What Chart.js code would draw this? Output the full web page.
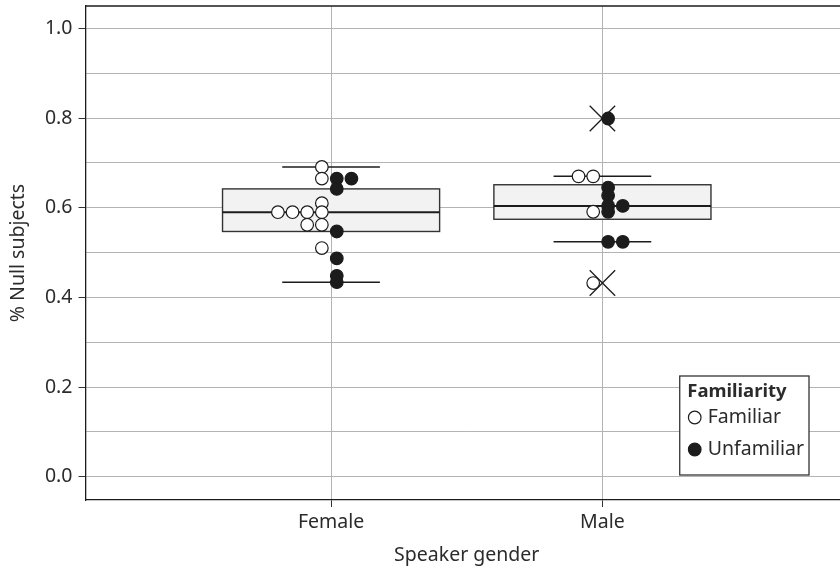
<!DOCTYPE html>
<html>
<head>
<meta charset="utf-8">
<title>Null subjects by speaker gender</title>
<script src="https://cdn.jsdelivr.net/npm/chart.js@4.4.1/dist/chart.umd.min.js"></script>
<style>
  html, body { margin: 0; padding: 0; background: #fff; overflow: hidden; }
  #chart { display: block; width: 848px; height: 571px; }
</style>
</head>
<body>
<canvas id="chart" width="848" height="571"></canvas>
<script>
// categories and values (proportion of null subjects per speaker)
const genders = ["Female", "Male"];
const familiarityLabels = ["Familiar", "Unfamiliar"];

const familiarFemale = [0.691, 0.665, 0.610, 0.590, 0.590, 0.590, 0.590, 0.562, 0.562, 0.510];
const unfamiliarFemale = [0.665, 0.665, 0.642, 0.547, 0.487, 0.448, 0.434];
const familiarMale = [0.670, 0.670, 0.591, 0.432];
const unfamiliarMale = [0.799, 0.645, 0.627, 0.604, 0.604, 0.591, 0.524, 0.524];

const yTickValues = [0, 0.2, 0.4, 0.6, 0.8, 1.0];
const yTickLabels = ["0.0", "0.2", "0.4", "0.6", "0.8", "1.0"];

const familiarValues = [familiarFemale, familiarMale];
const unfamiliarValues = [unfamiliarFemale, unfamiliarMale];

// layout bits
const X_MIN = 0.095, X_MAX = 2.905;
const BOX_HALF = 0.4;
const WHISKER_HALF = 0.18;
const DOT_STEP = 0.054;
const FONT = '"Noto Sans", sans-serif';
const FONT_SIZE = 19.5;
const TEXT = "#2b2b2b";
const INK = "#1c1c1c";

function quantile(sorted, p) {
  const h = (sorted.length - 1) * p;
  const lo = Math.floor(h);
  const hi = Math.min(lo + 1, sorted.length - 1);
  return sorted[lo] + (h - lo) * (sorted[hi] - sorted[lo]);
}

function boxStats(values) {
  const s = values.slice().sort((a, b) => a - b);
  const q1 = quantile(s, 0.25), med = quantile(s, 0.5), q3 = quantile(s, 0.75);
  const iqr = q3 - q1;
  const lowFence = q1 - 1.5 * iqr, highFence = q3 + 1.5 * iqr;
  const inside = s.filter(v => v >= lowFence && v <= highFence);
  return {
    q1, med, q3,
    lo: inside[0],
    hi: inside[inside.length - 1],
    outliers: s.filter(v => v < lowFence || v > highFence)
  };
}

// dots with equal values sit side by side, familiar to the left, unfamiliar to the right
function dotPositions(values, center, base, dir) {
  const seen = {};
  return values.map(v => {
    const k = seen[v] || 0;
    seen[v] = k + 1;
    return { x: center + base + dir * k * DOT_STEP, y: v };
  });
}

const stats = genders.map((g, i) => boxStats(familiarValues[i].concat(unfamiliarValues[i])));

const familiarPoints = [];
const unfamiliarPoints = [];
const outlierPoints = [];
genders.forEach((g, i) => {
  familiarPoints.push(...dotPositions(familiarValues[i], i + 1, -0.034, -1));
  unfamiliarPoints.push(...dotPositions(unfamiliarValues[i], i + 1, 0.021, 1));
  stats[i].outliers.forEach(v => outlierPoints.push({ x: i + 1, y: v }));
});

const boxPlugin = {
  id: "boxes",
  beforeDatasetsDraw(chart) {
    const { ctx, chartArea, scales: { x, y } } = chart;
    ctx.save();
    stats.forEach((s, i) => {
      const c = i + 1;
      const l = x.getPixelForValue(c - BOX_HALF);
      const r = x.getPixelForValue(c + BOX_HALF);
      const top = y.getPixelForValue(s.q3);
      const bot = y.getPixelForValue(s.q1);
      ctx.fillStyle = "#f2f2f2";
      ctx.fillRect(l, top, r - l, bot - top);
      ctx.strokeStyle = "#333";
      ctx.lineWidth = 1.4;
      ctx.strokeRect(l, top, r - l, bot - top);

      ctx.strokeStyle = INK;
      ctx.lineWidth = 2;
      ctx.beginPath();
      ctx.moveTo(l, y.getPixelForValue(s.med));
      ctx.lineTo(r, y.getPixelForValue(s.med));
      ctx.stroke();

      const wl = x.getPixelForValue(c - WHISKER_HALF);
      const wr = x.getPixelForValue(c + WHISKER_HALF);
      ctx.lineWidth = 1.5;
      [s.lo, s.hi].forEach(v => {
        ctx.beginPath();
        ctx.moveTo(wl, y.getPixelForValue(v));
        ctx.lineTo(wr, y.getPixelForValue(v));
        ctx.stroke();
      });
    });
    // top panel border
    ctx.strokeStyle = INK;
    ctx.lineWidth = 1.3;
    ctx.beginPath();
    ctx.moveTo(chartArea.left, chartArea.top);
    ctx.lineTo(chartArea.right, chartArea.top);
    ctx.stroke();
    ctx.restore();
  }
};

const legendPlugin = {
  id: "insideLegend",
  afterDraw(chart) {
    const { ctx, chartArea } = chart;
    const right = chartArea.right - 39;
    const bottom = chartArea.bottom - 25;
    const h = 99;
    ctx.save();
    ctx.font = FONT_SIZE + "px " + FONT;
    const textW = Math.max(...familiarityLabels.map(t => ctx.measureText(t).width));
    const w = 28 + textW + 5;
    const left = right - w;
    const top = bottom - h;
    ctx.fillStyle = "#fff";
    ctx.fillRect(left, top, w, h);
    ctx.strokeStyle = "#333";
    ctx.lineWidth = 1.3;
    ctx.strokeRect(left, top, w, h);

    ctx.fillStyle = TEXT;
    ctx.textBaseline = "middle";
    ctx.font = "bold 18.5px " + FONT;
    ctx.fillText("Familiarity", left + 7.5, top + 16);

    ctx.font = FONT_SIZE + "px " + FONT;
    const rows = [top + 41.5, top + 73.5];
    familiarityLabels.forEach((t, i) => {
      ctx.beginPath();
      ctx.arc(left + 15, rows[i], 6.3, 0, Math.PI * 2);
      ctx.fillStyle = i === 0 ? "#fff" : INK;
      ctx.fill();
      ctx.strokeStyle = INK;
      ctx.lineWidth = 1.2;
      ctx.stroke();
      ctx.fillStyle = TEXT;
      ctx.fillText(t, left + 28, rows[i]);
    });
    ctx.restore();
  }
};

new Chart(document.getElementById("chart"), {
  type: "scatter",
  data: {
    datasets: [
      {
        label: "outliers",
        data: outlierPoints,
        pointStyle: "crossRot",
        pointRadius: 18,
        pointBorderColor: INK,
        pointBorderWidth: 1.3,
        pointBackgroundColor: INK
      },
      {
        label: familiarityLabels[1],
        data: unfamiliarPoints,
        pointRadius: 6.3,
        pointBackgroundColor: INK,
        pointBorderColor: INK,
        pointBorderWidth: 1.2
      },
      {
        label: familiarityLabels[0],
        data: familiarPoints,
        pointRadius: 6.3,
        pointBackgroundColor: "#fff",
        pointBorderColor: INK,
        pointBorderWidth: 1.2
      }
    ]
  },
  options: {
    responsive: false,
    animation: false,
    devicePixelRatio: 1,
    layout: { autoPadding: false, padding: { top: 6, right: 0, left: 0, bottom: 0 } },
    plugins: {
      legend: { display: false },
      tooltip: { enabled: false }
    },
    scales: {
      x: {
        type: "linear",
        min: X_MIN,
        max: X_MAX,
        afterBuildTicks: axis => { axis.ticks = genders.map((g, i) => ({ value: i + 1 })); },
        afterFit: axis => {
          axis.height = 71;
          axis.paddingLeft = 0;
          axis.paddingRight = 0;
        },
        ticks: {
          callback: v => genders[Math.round(v) - 1],
          color: TEXT,
          font: { family: FONT, size: FONT_SIZE },
          padding: 4,
          maxRotation: 0
        },
        grid: { color: "#b3b3b3", lineWidth: 1, tickColor: "#333", tickLength: 7 },
        border: { display: true, color: INK, width: 1.3 },
        title: {
          display: true,
          text: "Speaker gender",
          color: TEXT,
          font: { family: FONT, size: FONT_SIZE },
          padding: { top: 0, bottom: 4.2 }
        }
      },
      y: {
        min: -0.052,
        max: 1.05,
        afterFit: axis => {
          axis.width = 85.5;
          axis.paddingTop = 0;
          axis.paddingBottom = 0;
        },
        ticks: {
          stepSize: 0.1,
          includeBounds: false,
          callback: v => {
            const i = yTickValues.findIndex(t => Math.abs(t - v) < 1e-6);
            return i >= 0 ? yTickLabels[i] : "";
          },
          color: TEXT,
          font: { family: FONT, size: FONT_SIZE },
          padding: 6
        },
        grid: {
          color: "#b3b3b3",
          lineWidth: 1,
          tickLength: 7,
          tickColor: c => yTickValues.some(t => Math.abs(t - c.tick.value) < 1e-6) ? "#333" : "rgba(0,0,0,0)"
        },
        border: { display: true, color: INK, width: 1.3 },
        title: {
          display: true,
          text: "% Null subjects",
          color: TEXT,
          font: { family: FONT, size: FONT_SIZE },
          padding: { top: 6.4, bottom: 0 }
        }
      }
    }
  },
  plugins: [boxPlugin, legendPlugin]
});
</script>
</body>
</html>
